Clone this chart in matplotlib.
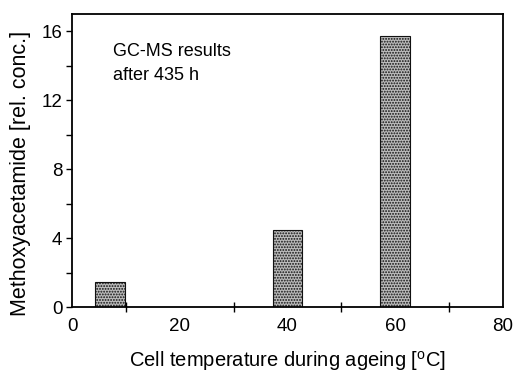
import matplotlib
matplotlib.use('Agg')
import matplotlib.pyplot as plt
from matplotlib.ticker import MultipleLocator

plt.rcParams['font.family'] = 'Liberation Sans'
plt.rcParams['mathtext.fontset'] = 'custom'
plt.rcParams['mathtext.rm'] = 'Liberation Sans'
plt.rcParams['hatch.linewidth'] = 0.9

# GC-MS results after 435 h of ageing
temperature = [7, 40, 60]
methoxyacetamide = [1.45, 4.47, 15.7]
bar_width = 5.5

fig = plt.figure(figsize=(5.14, 3.74), dpi=100)
ax = fig.add_axes([72/514, 1 - 307/374, 431/514, 293/374])

ax.bar(temperature, methoxyacetamide, width=bar_width, align='center',
       facecolor='#bcbcbc', edgecolor='#111111', hatch='......', linewidth=0.8)

ax.set_xlim(0, 80)
ax.set_ylim(0, 17)
ax.xaxis.set_major_locator(MultipleLocator(20))
ax.xaxis.set_minor_locator(MultipleLocator(10))
ax.yaxis.set_major_locator(MultipleLocator(4))
ax.yaxis.set_minor_locator(MultipleLocator(2))

ax.tick_params(axis='x', which='major', length=0, pad=8, labelsize=13.5)
ax.tick_params(axis='x', which='minor', direction='inout', length=7, width=1.0)
ax.tick_params(axis='y', which='major', direction='out', length=4, width=1.0, labelsize=13.5, pad=3)
ax.tick_params(axis='y', which='minor', direction='out', length=4, width=1.0)
for s in ax.spines.values():
    s.set_linewidth(1.3)

ax.set_xlabel('Cell temperature during ageing [$^{\\mathrm{o}}$C]', fontsize=14.5)
ax.xaxis.set_label_coords(0.5, -0.145)
ax.set_ylabel('Methoxyacetamide [rel. conc.]', fontsize=15.5)
ax.yaxis.set_label_coords(-0.095, 0.455)

ax.text(0.095, 0.9, 'GC-MS results\nafter 435 h', transform=ax.transAxes,
        fontsize=13, va='top', ha='left', linespacing=1.5)

fig.savefig('out.png', dpi=100)
